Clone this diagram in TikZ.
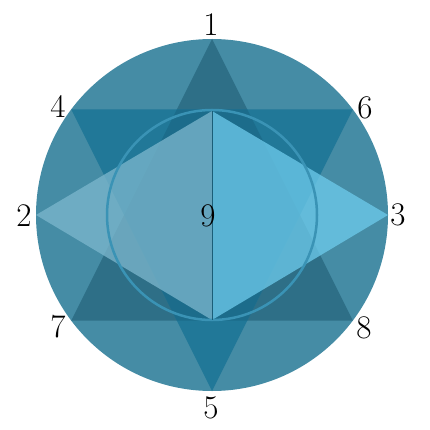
\documentclass[tikz,border=0pt]{standalone}
\begin{document}
\begin{tikzpicture}[x=1pt,y=-1pt,
  lbl/.style={font=\fontsize{33}{33}\selectfont, inner sep=0pt, text=black}]
\definecolor{disc}{HTML}{458CA5}
\definecolor{uptri}{HTML}{2E6F87}
\definecolor{downtri}{HTML}{217898}
\definecolor{hexc}{HTML}{1C6C8B}
\definecolor{rhl}{RGB}{125,184,206}
\definecolor{rhr}{RGB}{110,204,237}
\definecolor{ring}{HTML}{3A93B5}
\definecolor{axis}{HTML}{1B5E78}
\useasboundingbox (0,0) rectangle (430,430);
% geometry
\coordinate (c) at (212,215);
\coordinate (p1) at (212,39);
\coordinate (p5) at (212,391);
\coordinate (p4) at (71.2,109.4);
\coordinate (p6) at (352.8,109.4);
\coordinate (p7) at (71.2,320.6);
\coordinate (p8) at (352.8,320.6);
\coordinate (p2) at (36,215);
\coordinate (p3) at (388,215);
\coordinate (it) at (212,111);
\coordinate (ib) at (212,320);
% disc
\fill[disc] (c) circle[radius=176];
% triangles
\fill[uptri] (p1) -- (p7) -- (p8) -- cycle;
\fill[downtri] (p5) -- (p4) -- (p6) -- cycle;
\begin{scope}
  \clip (p1) -- (p7) -- (p8) -- cycle;
  \fill[hexc] (p5) -- (p4) -- (p6) -- cycle;
\end{scope}
% rhombus halves
\fill[rhl, fill opacity=0.75] (p2) -- (it) -- (ib) -- cycle;
\fill[rhr, fill opacity=0.75] (p3) -- (it) -- (ib) -- cycle;
% inner ring and axis
\draw[ring, line width=2.5pt] (c) circle[radius=105];
\draw[axis, line width=1pt] (it) -- (ib);
% labels
\node[lbl] (n1) at (211,25) {1};
\node[lbl] (n4) at (58,106) {4};
\node[lbl] (n6) at (365,108) {6};
\node[lbl] (n2) at (24,216) {2};
\node[lbl] (n3) at (398,215) {3};
\node[lbl] (n7) at (58,327) {7};
\node[lbl] (n8) at (364,328) {8};
\node[lbl] (n5) at (211,408) {5};
\node[lbl] (n9) at (208,216) {9};
\end{tikzpicture}
\end{document}
